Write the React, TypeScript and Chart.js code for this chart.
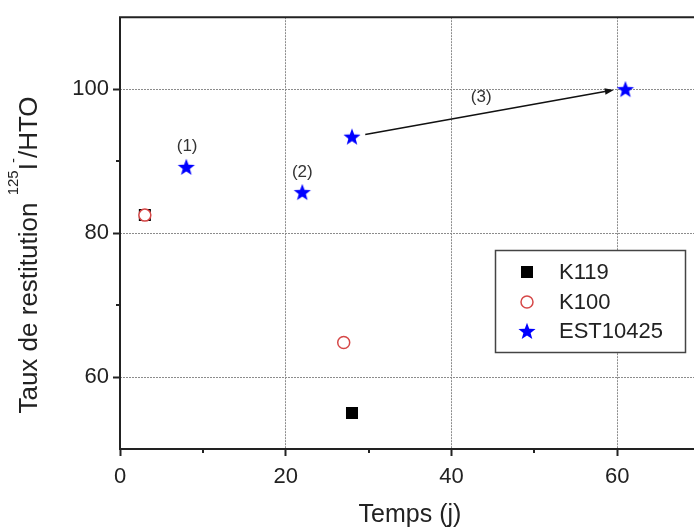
import { useEffect, useRef } from 'react';
import { Chart, registerables } from 'chart.js';
Chart.register(...registerables);

const seriesNames = ['K119', 'K100', 'EST10425'];
const k119X = [3, 28];
const k119Y = [82.5, 55];
const k100X = [3, 27];
const k100Y = [82.5, 64.8];
const estX = [8, 22, 28, 61];
const estY = [89.2, 85.7, 93.4, 100];
const xMajor = [0, 20, 40, 60];
const xMinor = [10, 30, 50];
const yMajor = [60, 80, 100];
const yMinor = [70, 90];
const noteLabels = ['(1)', '(2)', '(3)'];
const noteX = [8.1, 22, 43.6];
const noteY = [92.0, 88.5, 98.9];
const arrowFrom = [29.6, 93.7];
const arrowTo = [59.6, 99.9];
const xTitle = 'Temps (j)';
const yTitleParts = [
  { t: 'Taux de restitution ', sup: false },
  { t: '125', sup: true },
  { t: 'I', sup: false },
  { t: '-', sup: true },
  { t: '/HTO', sup: false },
];

const FONT = '"Liberation Sans", Arial, sans-serif';
const TEXT = '#222';
const RED = '#d64848';
const BLUE = '#0000ff';

function makeStar(outer: number, inner: number, color: string) {
  const c = document.createElement('canvas');
  const s = Math.ceil(outer * 2 + 2);
  c.width = s;
  c.height = s;
  const ctx = c.getContext('2d')!;
  ctx.translate(s / 2, s / 2 + 0.8);
  ctx.beginPath();
  for (let i = 0; i < 10; i++) {
    const r = i % 2 === 0 ? outer : inner;
    const a = -Math.PI / 2 + (i * Math.PI) / 5;
    ctx.lineTo(r * Math.cos(a), r * Math.sin(a));
  }
  ctx.closePath();
  ctx.fillStyle = color;
  ctx.fill();
  return c;
}

export default function App() {
  const ref = useRef<HTMLCanvasElement>(null);
  useEffect(() => {
    const star = makeStar(9, 3.8, BLUE);
    const overlay = {
      id: 'overlay',
      afterDraw(chart: any) {
        const ctx = chart.ctx as CanvasRenderingContext2D;
        const { left, right, top, bottom } = chart.chartArea;
        const xs = chart.scales.x;
        const ys = chart.scales.y;
        ctx.save();
        // axes
        ctx.strokeStyle = '#222';
        ctx.lineWidth = 2;
        ctx.beginPath();
        ctx.moveTo(left, top);
        ctx.lineTo(right, top);
        ctx.moveTo(left, top - 1);
        ctx.lineTo(left, bottom + 1);
        ctx.moveTo(left - 1, bottom);
        ctx.lineTo(right, bottom);
        ctx.stroke();
        // minor ticks
        ctx.lineWidth = 2;
        ctx.beginPath();
        for (const v of xMinor) {
          const px = Math.round(xs.getPixelForValue(v));
          ctx.moveTo(px, bottom);
          ctx.lineTo(px, bottom + 4);
        }
        for (const v of yMinor) {
          const py = Math.round(ys.getPixelForValue(v));
          ctx.moveTo(left, py);
          ctx.lineTo(left - 4, py);
        }
        ctx.stroke();
        // annotations
        ctx.fillStyle = '#333';
        ctx.font = `17px ${FONT}`;
        ctx.textAlign = 'center';
        ctx.textBaseline = 'middle';
        noteLabels.forEach((l, i) => {
          ctx.fillText(l, xs.getPixelForValue(noteX[i]), ys.getPixelForValue(noteY[i]));
        });
        // arrow
        const ax1 = xs.getPixelForValue(arrowFrom[0]);
        const ay1 = ys.getPixelForValue(arrowFrom[1]);
        const ax2 = xs.getPixelForValue(arrowTo[0]);
        const ay2 = ys.getPixelForValue(arrowTo[1]);
        const ang = Math.atan2(ay2 - ay1, ax2 - ax1);
        const hl = 9;
        const hw = 3.2;
        ctx.strokeStyle = '#111';
        ctx.lineWidth = 1.5;
        ctx.beginPath();
        ctx.moveTo(ax1, ay1);
        ctx.lineTo(ax2 - hl * Math.cos(ang), ay2 - hl * Math.sin(ang));
        ctx.stroke();
        ctx.fillStyle = '#111';
        ctx.beginPath();
        ctx.moveTo(ax2, ay2);
        ctx.lineTo(ax2 - hl * Math.cos(ang) - hw * Math.sin(ang), ay2 - hl * Math.sin(ang) + hw * Math.cos(ang));
        ctx.lineTo(ax2 - hl * Math.cos(ang) + hw * Math.sin(ang), ay2 - hl * Math.sin(ang) - hw * Math.cos(ang));
        ctx.closePath();
        ctx.fill();
        // legend
        const lx = 495.5, ly = 250.5, lw = 190, lh = 102;
        ctx.fillStyle = '#fff';
        ctx.fillRect(lx, ly, lw, lh);
        ctx.strokeStyle = '#444';
        ctx.lineWidth = 1.5;
        ctx.strokeRect(lx, ly, lw, lh);
        const rows = [272, 302, 331];
        const sx = 527;
        ctx.font = `22px ${FONT}`;
        ctx.textAlign = 'left';
        ctx.textBaseline = 'middle';
        seriesNames.forEach((n, i) => {
          const y = rows[i];
          if (i === 0) {
            ctx.fillStyle = '#000';
            ctx.fillRect(sx - 6, y - 6, 12, 12);
          } else if (i === 1) {
            ctx.strokeStyle = RED;
            ctx.lineWidth = 1.5;
            ctx.beginPath();
            ctx.arc(sx, y, 6, 0, Math.PI * 2);
            ctx.stroke();
          } else {
            ctx.drawImage(star, sx - star.width / 2, y - star.height / 2);
          }
          ctx.fillStyle = TEXT;
          ctx.fillText(n, 559, y + 1);
        });
        // x title
        ctx.fillStyle = TEXT;
        ctx.font = `25px ${FONT}`;
        ctx.textAlign = 'center';
        ctx.textBaseline = 'alphabetic';
        ctx.fillText(xTitle, (left + right) / 2, 522);
        // y title
        ctx.save();
        ctx.translate(37, 255);
        ctx.rotate(-Math.PI / 2);
        ctx.textAlign = 'left';
        const fMain = `26px ${FONT}`;
        const fSup = `15px ${FONT}`;
        let total = 0;
        for (const p of yTitleParts) {
          ctx.font = p.sup ? fSup : fMain;
          total += ctx.measureText(p.t).width;
        }
        let cx = -total / 2;
        for (const p of yTitleParts) {
          ctx.font = p.sup ? fSup : fMain;
          ctx.fillText(p.t, cx, p.sup ? -19 : 0);
          cx += ctx.measureText(p.t).width;
        }
        ctx.restore();
        ctx.restore();
      },
    };

    const chart = new Chart(ref.current!, {
      type: 'scatter',
      data: {
        datasets: [
          {
            label: seriesNames[1],
            data: k100X.map((x, i) => ({ x, y: k100Y[i] })),
            pointStyle: 'circle',
            pointRadius: 6,
            borderColor: RED,
            backgroundColor: '#fff',
            borderWidth: 1.5,
            order: 0,
          },
          {
            label: seriesNames[0],
            data: k119X.map((x, i) => ({ x, y: k119Y[i] })),
            pointStyle: 'rect',
            pointRadius: 8.5,
            borderColor: '#000',
            backgroundColor: '#000',
            borderWidth: 0,
            order: 1,
          },
          {
            label: seriesNames[2],
            data: estX.map((x, i) => ({ x, y: estY[i] })),
            pointStyle: star as any,
            pointRadius: 9,
            order: 2,
          },
        ],
      },
      options: {
        animation: false,
        responsive: false,
        devicePixelRatio: 1,
        events: [],
        layout: { padding: { top: 15, right: 7, left: 0, bottom: 0 } },
        plugins: { legend: { display: false }, tooltip: { enabled: false } },
        scales: {
          x: {
            type: 'linear',
            min: 0,
            max: 70,
            afterBuildTicks: (s: any) => {
              s.ticks = xMajor.map((v) => ({ value: v }));
            },
            afterFit: (s: any) => {
              s.height = 81;
            },
            grid: {
              color: '#8c8c8c',
              lineWidth: 1,
              tickColor: '#222',
              tickWidth: 2,
              tickLength: 7,
            },
            border: { display: false, dash: [2, 1] },
            ticks: { font: { family: FONT, size: 22 }, color: TEXT, padding: 8, maxRotation: 0 },
          },
          y: {
            type: 'linear',
            min: 50,
            max: 110,
            afterBuildTicks: (s: any) => {
              s.ticks = yMajor.map((v) => ({ value: v }));
            },
            afterFit: (s: any) => {
              s.width = 120;
            },
            grid: {
              color: '#8c8c8c',
              lineWidth: 1,
              tickColor: '#222',
              tickWidth: 2,
              tickLength: 7,
            },
            border: { display: false, dash: [2, 1] },
            ticks: { font: { family: FONT, size: 22 }, color: TEXT, padding: 4 },
          },
        },
      },
      plugins: [overlay],
    } as any);
    return () => chart.destroy();
  }, []);
  return (
    <div style={{ position: 'absolute', left: 0, top: 0, width: 694, height: 530, overflow: 'hidden', background: '#fff' }}>
      <canvas ref={ref} width={710} height={530} style={{ display: 'block' }} />
    </div>
  );
}
